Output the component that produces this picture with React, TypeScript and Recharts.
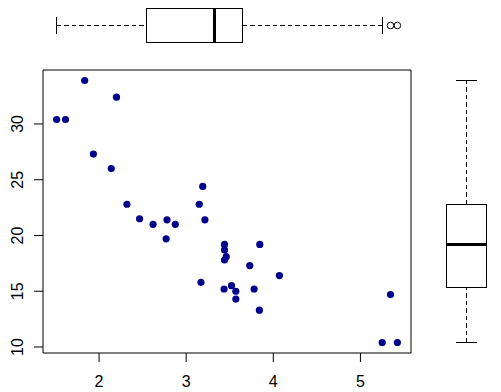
import React from 'react';
import {
  ScatterChart, ComposedChart, Scatter, XAxis, YAxis, ReferenceArea, ReferenceLine,
} from 'recharts';

// mtcars: weight (1000 lbs) and miles per gallon
const wt = [2.62, 2.875, 2.32, 3.215, 3.44, 3.46, 3.57, 3.19, 3.15, 3.44, 3.44, 4.07, 3.73, 3.78, 5.25, 5.424,
  5.345, 2.2, 1.615, 1.835, 2.465, 3.52, 3.435, 3.84, 3.845, 1.935, 2.14, 1.513, 3.17, 2.77, 3.57, 2.78];
const mpg = [21.0, 21.0, 22.8, 21.4, 18.7, 18.1, 14.3, 24.4, 22.8, 19.2, 17.8, 16.4, 17.3, 15.2, 10.4, 10.4,
  14.7, 32.4, 30.4, 33.9, 21.5, 15.5, 15.2, 13.3, 19.2, 27.3, 26.0, 30.4, 15.8, 19.7, 15.0, 21.4];

// boxplot five-number summaries (min whisker, lower hinge, median, upper hinge, max whisker)
const wtStats = [1.513, 2.5425, 3.325, 3.65, 5.25];
const wtOutliers = [5.345, 5.424];
const mpgStats = [10.4, 15.35, 19.2, 22.8, 33.9];

const xTicks = [2, 3, 4, 5];
const yTicks = [10, 15, 20, 25, 30];

const xDomain: [number, number] = [1.3566, 5.5804];
const yDomain: [number, number] = [9.46, 34.84];

const points = wt.map((w, i) => ({ wt: w, mpg: mpg[i] }));
const outlierPts = wtOutliers.map((v) => ({ v, pos: 0 }));
const mpgAnchor = mpgStats.map((v) => ({ pos: 0, v }));

const FONT = '"Liberation Sans", Arial, sans-serif';
const BOXW = 0.4;
const CAPW = 0.2;
const DASH = '4.5 3';
const CRISP = 'crispEdges';

const XTick = (props: any) => {
  const { x, y, payload } = props;
  return (
    <text x={x} y={y + 23} textAnchor="middle" fontFamily={FONT} fontSize={16} fill="#000">
      {payload.value}
    </text>
  );
};

const YTick = (props: any) => {
  const { x, y, payload } = props;
  const tx = x - 8.5;
  return (
    <text x={tx} y={y} textAnchor="middle" fontFamily={FONT} fontSize={16} fill="#000"
      transform={`rotate(-90 ${tx} ${y})`}>
      {payload.value}
    </text>
  );
};

const Dot = (p: any) => <circle cx={p.cx} cy={p.cy} r={3.6} fill="#00008B" />;
const OpenDot = (p: any) => <circle cx={p.cx} cy={p.cy} r={3.3} fill="none" stroke="#000" strokeWidth={1} />;
const NoDot = () => <g />;

export default function App() {
  return (
    <div style={{ position: 'absolute', left: 0, top: 0, width: 501, height: 392, background: '#fff' }}>
      {/* main scatter */}
      <div style={{ position: 'absolute', left: 0, top: 0 }}>
        <ScatterChart width={501} height={392} margin={{ top: 70, right: 90, bottom: 0, left: 0 }}>
          <XAxis type="number" dataKey="wt" domain={xDomain} allowDataOverflow ticks={xTicks}
            axisLine={false} tickLine={{ stroke: '#000' }} tickSize={9} height={39} tick={<XTick />} />
          <YAxis type="number" dataKey="mpg" domain={yDomain} allowDataOverflow ticks={yTicks}
            axisLine={false} tickLine={{ stroke: '#000' }} tickSize={9} width={43} tick={<YTick />} />
          <ReferenceArea x1={xDomain[0]} x2={xDomain[1]} y1={yDomain[0]} y2={yDomain[1]}
            fill="none" fillOpacity={0} stroke="#000" strokeWidth={1} ifOverflow="visible" />
          <Scatter data={points} shape={<Dot />} isAnimationActive={false} />
        </ScatterChart>
      </div>

      {/* top boxplot of wt */}
      <div style={{ position: 'absolute', left: 0, top: 0 }}>
        <ComposedChart width={501} height={51} margin={{ top: 0, right: 90, bottom: 0, left: 43 }}>
          <XAxis hide type="number" dataKey="v" domain={xDomain} allowDataOverflow />
          <YAxis hide type="number" dataKey="pos" domain={[-0.618, 0.618]} allowDataOverflow />
          <ReferenceLine segment={[{ x: wtStats[0], y: 0 }, { x: wtStats[1], y: 0 }]} stroke="#000" strokeDasharray={DASH} shapeRendering={CRISP} ifOverflow="visible" />
          <ReferenceLine segment={[{ x: wtStats[3], y: 0 }, { x: wtStats[4], y: 0 }]} stroke="#000" strokeDasharray={DASH} shapeRendering={CRISP} ifOverflow="visible" />
          <ReferenceLine segment={[{ x: wtStats[0], y: -CAPW }, { x: wtStats[0], y: CAPW }]} stroke="#000" shapeRendering={CRISP} ifOverflow="visible" />
          <ReferenceLine segment={[{ x: wtStats[4], y: -CAPW }, { x: wtStats[4], y: CAPW }]} stroke="#000" shapeRendering={CRISP} ifOverflow="visible" />
          <ReferenceArea x1={wtStats[1]} x2={wtStats[3]} y1={-BOXW} y2={BOXW} fill="#fff" fillOpacity={1} stroke="#000" strokeWidth={1} shapeRendering={CRISP} ifOverflow="visible" />
          <ReferenceLine segment={[{ x: wtStats[2], y: -BOXW }, { x: wtStats[2], y: BOXW }]} stroke="#000" strokeWidth={3} shapeRendering={CRISP} ifOverflow="visible" />
          <Scatter data={outlierPts} shape={<OpenDot />} isAnimationActive={false} />
        </ComposedChart>
      </div>

      {/* right boxplot of mpg */}
      <div style={{ position: 'absolute', left: 435, top: 70 }}>
        <ComposedChart width={63} height={283} margin={{ top: 0, right: 0, bottom: 0, left: 0 }}>
          <XAxis hide type="number" dataKey="pos" domain={[-0.615, 0.615]} allowDataOverflow />
          <YAxis hide type="number" dataKey="v" domain={yDomain} allowDataOverflow />
          <ReferenceLine segment={[{ x: 0, y: mpgStats[0] }, { x: 0, y: mpgStats[1] }]} stroke="#000" strokeDasharray={DASH} shapeRendering={CRISP} ifOverflow="visible" />
          <ReferenceLine segment={[{ x: 0, y: mpgStats[3] }, { x: 0, y: mpgStats[4] }]} stroke="#000" strokeDasharray={DASH} shapeRendering={CRISP} ifOverflow="visible" />
          <ReferenceLine segment={[{ x: -CAPW, y: mpgStats[0] }, { x: CAPW, y: mpgStats[0] }]} stroke="#000" shapeRendering={CRISP} ifOverflow="visible" />
          <ReferenceLine segment={[{ x: -CAPW, y: mpgStats[4] }, { x: CAPW, y: mpgStats[4] }]} stroke="#000" shapeRendering={CRISP} ifOverflow="visible" />
          <ReferenceArea x1={-BOXW} x2={BOXW} y1={mpgStats[1]} y2={mpgStats[3]} fill="#fff" fillOpacity={1} stroke="#000" strokeWidth={1} shapeRendering={CRISP} ifOverflow="visible" />
          <ReferenceLine segment={[{ x: -BOXW, y: mpgStats[2] }, { x: BOXW, y: mpgStats[2] }]} stroke="#000" strokeWidth={3} shapeRendering={CRISP} ifOverflow="visible" />
          <Scatter data={mpgAnchor} shape={<NoDot />} isAnimationActive={false} />
        </ComposedChart>
      </div>
    </div>
  );
}
